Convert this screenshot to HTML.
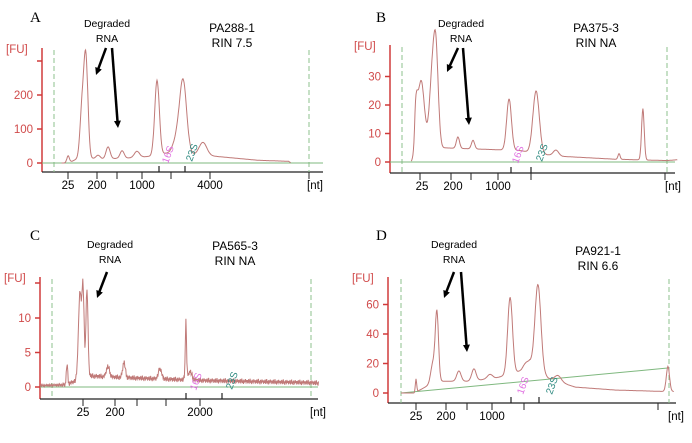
<!DOCTYPE html>
<html><head><meta charset="utf-8">
<style>
body{margin:0;background:#fff;}
svg{display:block;font-family:"Liberation Sans",sans-serif;}
</style></head>
<body>
<svg id="fig" width="692" height="443" viewBox="0 0 692 443"></svg>
<script>
// ---- Panel A data ----
const aPeakPos=[5.5,11,12.5,17.3,21.2,26.7,32.5,40.4,47.8,50.6,58.4];
const aPeakVal=[20,140,290,10,35,22,18,220,25,215,38];
const aPeakWid=[0.5,0.8,0.8,0.8,0.8,0.8,1,0.9,1.3,1.4,1.5];
const aBasePos=[0,5,7,10,20,30,38,45,48,52,60,70,80,92,93,100];
const aBaseVal=[0,0,5,15,12,15,20,30,40,25,22,15,8,5,0,0];
const aYTicks=[0,100,200];
const aXLabels=["25","200","1000","4000"];
// ---- Panel B data ----
const bPeakPos=[5.3,7.2,11.3,12.8,21.1,26.8,40.4,50.6,58.1,81.9,90.9];
const bPeakVal=[12,23,22,32,4,3,18,22,2,2,18];
const bPeakWid=[0.6,1.2,1,0.9,0.6,0.6,0.9,1.2,1,0.4,0.5];
const bBasePos=[0,4.5,5,9,15,30,45,50,60,80,100,104];
const bBaseVal=[0,0,5,6,5,4.5,4,3,2,1,0.5,0.8];
const bYTicks=[0,10,20,30];
const bXLabels=["25","200","1000"];
// ---- Panel C data ----
const cPeakPos=[5.8,10.8,12.0,13.5,21.6,27.8,41.7,51.7,53.3];
const cPeakVal=[3,12.5,12,12.5,1.5,2.2,1.5,8.5,1.2];
const cPeakWid=[0.25,0.6,0.4,0.4,0.6,0.5,0.6,0.25,0.7];
const cBasePos=[-4,5,9,13,30,45,60,100,104];
const cBaseVal=[0.2,0.3,0.8,1.6,1.3,1.1,0.9,0.6,0.5];
const cNoise=[0.3,-0.2,0.5,-0.4,0.1,0.6,-0.3,0.2,-0.5,0.4,0,-0.2,0.5,-0.1,0.3,-0.4];
const cYTicks=[0,5,10];
const cXLabels=["25","200","2000"];
// ---- Panel D data ----
const dPeakPos=[5.6,11.9,13.4,21.6,27.2,33.2,40.7,46.6,51.1,58.6,99.6];
const dPeakVal=[9,14,47,7,8,3,52,3,58,4,17];
const dPeakWid=[0.25,0.8,0.6,0.8,0.8,1,0.9,1.2,1.1,1.2,0.6];
const dBasePos=[0,5,10,15,25,35,45,48,55,65,80,99,102];
const dBaseVal=[0,0,5,8,8,10,15,20,10,4,2,1,1];
const dYTicks=[0,20,40,60];
const dXLabels=["25","200","1000"];

const NS="http://www.w3.org/2000/svg";
const svg=document.getElementById('fig');
function mk(tag,attrs,parent,text){const e=document.createElementNS(NS,tag);for(const k in attrs)e.setAttribute(k,attrs[k]);if(text!==undefined)e.textContent=text;(parent||svg).appendChild(e);return e;}
function interp(xs,ys,x){if(x<=xs[0])return ys[0];for(let i=1;i<xs.length;i++){if(x<=xs[i]){const t=(x-xs[i-1])/(xs[i]-xs[i-1]);return ys[i-1]+t*(ys[i]-ys[i-1]);}}return ys[ys.length-1];}

function panel(P){
  const g=mk('g',{});
  
  
  const sx=u=>P.d0+(P.d1-P.d0)*u/100;
  const sy=v=>P.y0-(v/P.yStep)*P.yPix;
  const L=mk('text',{x:P.lx,y:P.ly,'font-family':'Liberation Serif,serif','font-size':15},g,P.id);
   
  const dg=mk('text',{x:P.dgx,y:P.dgy,'font-size':10.5,'text-anchor':'middle'},g,'Degraded');
   
  mk('text',{x:P.dgx,y:P.dgy+15,'font-size':10.5,'text-anchor':'middle'},g,'RNA');
  const sm=mk('text',{x:P.sx,y:P.sy,'font-size':12,'text-anchor':'middle'},g,P.sample);
   
  const rn=mk('text',{x:P.sx,y:P.sy+15,'font-size':12,'text-anchor':'middle'},g,P.rin);
   
  const fu=mk('text',{x:P.ax-36,y:P.top+5,'font-size':11.5,fill:'#d04a4a'},g,'[FU]');
   
  mk('line',{x1:P.ax,y1:P.top,x2:P.ax,y2:P.xb,stroke:'#d03a3a','stroke-width':1.5},g);
  mk('line',{x1:P.ax,y1:P.xb,x2:P.xr,y2:P.xb,stroke:'#222','stroke-width':1.2},g);
  P.yt.forEach(v=>{const y=sy(v);mk('line',{x1:P.ax-5,y1:y,x2:P.ax,y2:y,stroke:'#d03a3a','stroke-width':1.5},g);
    const t=mk('text',{x:P.ax-9,y:y+4,'font-size':11.5,fill:'#d04a4a','text-anchor':'end'},g,String(v));
     });
  P.extraY.forEach(y=>mk('line',{x1:P.ax-5,y1:y,x2:P.ax,y2:y,stroke:'#d03a3a','stroke-width':1.5},g));
  P.ticks.forEach(x=>mk('line',{x1:x,y1:P.xb,x2:x,y2:P.xb+7,stroke:'#222','stroke-width':1},g));
  P.marks.forEach(x=>mk('line',{x1:x,y1:P.xb-6,x2:x,y2:P.xb,stroke:'#222','stroke-width':1.2},g));
  P.xl.forEach((s,i)=>{const t=mk('text',{x:P.xlx[i],y:P.xb+17,'font-size':11.5,'text-anchor':'middle'},g,s);
     });
  const nt=mk('text',{x:P.ntx,y:P.xb+17,'font-size':11.5},g,'[nt]');
   
  [P.d0,P.d1].forEach(x=>mk('line',{x1:x,y1:P.top+2,x2:x,y2:P.xb,stroke:'#8cc08c','stroke-dasharray':'5,3','stroke-width':1},g));
  const bl=mk('line',{x1:P.ax,y1:sy(0),x2:P.xr,y2:sy(P.blEnd),stroke:'#7fb87f','stroke-width':1},g);
  if(P.blEnd){bl.setAttribute('x1',sx(0));bl.setAttribute('y1',sy(0));bl.setAttribute('x2',sx(100));}
   
  let pts=[];let k=0;
  for(let u=P.u0;u<=P.u1;u+=0.2){
    let v=interp(P.bp,P.bv,u);
    for(let i=0;i<P.pp.length;i++){const d=(u-P.pp[i])/P.pw[i];v+=P.pv[i]*Math.exp(-0.5*d*d);}
    if(P.noise){v+=0.7*P.noise[k%P.noise.length]*(u>4?1:0.4);}
    k++;
    pts.push(sx(u).toFixed(1)+','+sy(v).toFixed(1));
  }
  const tr=mk('polyline',{points:pts.join(' '),fill:'none',stroke:'#c07a78','stroke-width':1},g);
   
  const s16=mk('text',{x:P.r16[0],y:P.r16[1],'font-size':10,fill:'#e070e0',transform:`rotate(-70 ${P.r16[0]} ${P.r16[1]})`},g,'16S');
   
  const s23=mk('text',{x:P.r23[0],y:P.r23[1],'font-size':10,fill:'#2e8a80',transform:`rotate(-70 ${P.r23[0]} ${P.r23[1]})`},g,'23S');
   
  P.arrows.forEach(a=>{
    const [x1,y1,x2,y2]=a;const ang=Math.atan2(y2-y1,x2-x1);const h=8;
    mk('line',{x1,y1,x2:x2-Math.cos(ang)*5,y2:y2-Math.sin(ang)*5,stroke:'#000','stroke-width':2.5},g);
    const p1=[x2-h*Math.cos(ang-0.45),y2-h*Math.sin(ang-0.45)],p2=[x2-h*Math.cos(ang+0.45),y2-h*Math.sin(ang+0.45)];
    const ar=mk('polygon',{points:`${x2},${y2} ${p1} ${p2}`,fill:'#000'},g);
     
  });
}

panel({id:'A',lx:30,ly:22,dgx:107,dgy:27,sx:232,sy:32,sample:'PA288-1',rin:'RIN 7.5',
 ax:42,top:48,xb:172,xr:323,y0:163,yStep:100,yPix:34,yt:aYTicks,extraY:[61],
 d0:54,d1:309,ticks:[68,97,117,142,171,210,309],marks:[159,185],xl:aXLabels,xlx:[68,97,142,210],ntx:307,
 bp:aBasePos,bv:aBaseVal,pp:aPeakPos,pv:aPeakVal,pw:aPeakWid,u0:3,u1:93,blEnd:0,
 r16:[168,164],r23:[192,162],arrows:[[106,48,96,75],[112,48,118,128]]});
panel({id:'B',lx:376,ly:22,dgx:461,dgy:27,sx:596,sy:32,sample:'PA375-3',rin:'RIN NA',
 ax:390,top:45,xb:173,xr:675,y0:162,yStep:10,yPix:28.5,yt:bYTicks,extraY:[],
 d0:402,d1:667,ticks:[420,451,471,498,531,665],marks:[511,531],xl:bXLabels,xlx:[422,453,498],ntx:665,
 bp:bBasePos,bv:bBaseVal,pp:bPeakPos,pv:bPeakVal,pw:bPeakWid,u0:3.5,u1:104,blEnd:0,
 r16:[518,164],r23:[542,162],arrows:[[458,48,447,72],[463,48,469,125]]});
panel({id:'C',lx:30,ly:240,dgx:110,dgy:248,sx:235,sy:250,sample:'PA565-3',rin:'RIN NA',
 ax:40,top:277,xb:399,xr:318,y0:387,yStep:5,yPix:34.5,yt:cYTicks,extraY:[283],
 d0:52,d1:311,ticks:[83,115,137,166,200],marks:[186,222],xl:cXLabels,xlx:[83,115,200],ntx:310,
 bp:cBasePos,bv:cBaseVal,pp:cPeakPos,pv:cPeakVal,pw:cPeakWid,noise:cNoise,u0:-4.5,u1:103,blEnd:0,
 r16:[196,391],r23:[232,390],arrows:[[107,272,97,298]]});
panel({id:'D',lx:376,ly:240,dgx:454,dgy:248,sx:598,sy:255,sample:'PA921-1',rin:'RIN 6.6',
 ax:388,top:277,xb:403,xr:676,y0:393,yStep:20,yPix:29.5,yt:dYTicks,extraY:[],
 d0:401,d1:669,ticks:[416,446,467,492,524,658],marks:[511,539],xl:dXLabels,xlx:[416,446,492],ntx:668,
 bp:dBasePos,bv:dBaseVal,pp:dPeakPos,pv:dPeakVal,pw:dPeakWid,u0:0,u1:102,blEnd:17,
 r16:[523,395],r23:[552,395],arrows:[[454,272,444,298],[461,272,467,352]]});
</script>
</body></html>
